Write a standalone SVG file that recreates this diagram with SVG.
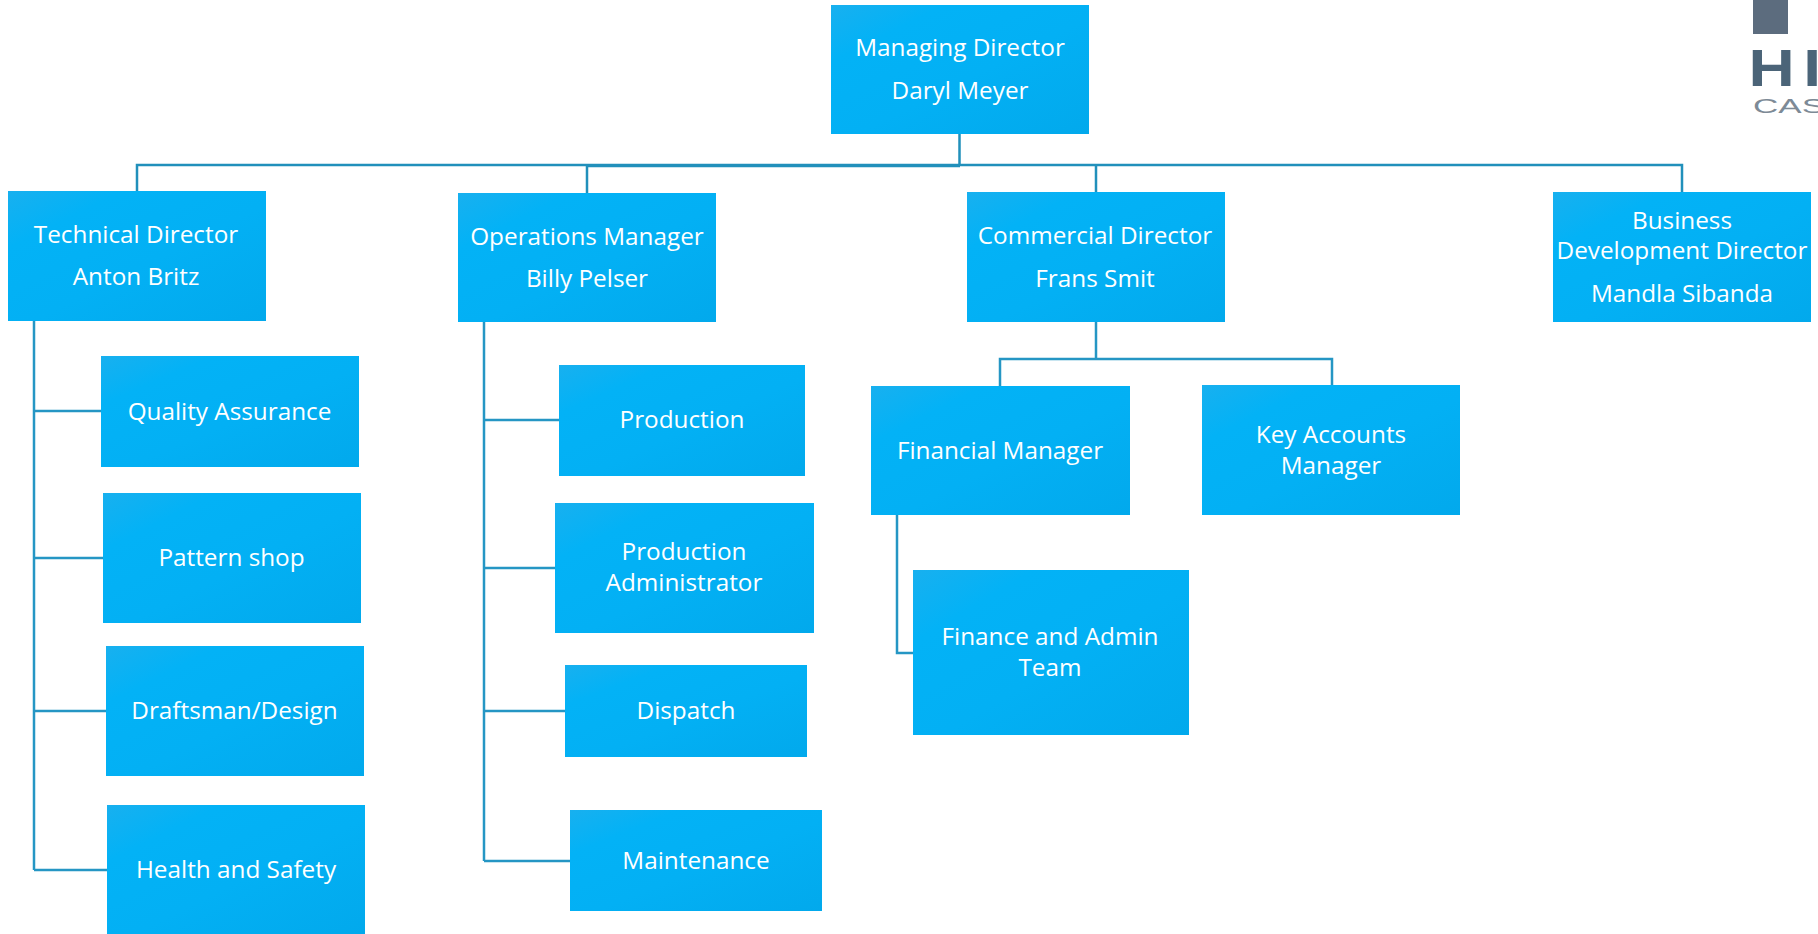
<svg xmlns="http://www.w3.org/2000/svg" width="1818" height="934" viewBox="0 0 1818 934">
<style>
.n{fill:url(#g)}
.t{font-family:"Open Sans","Noto Sans",sans-serif;font-size:24.3px;fill:#fff;text-anchor:middle}
.c{fill:none;stroke:#2596c4;stroke-width:2.5}
</style>
<defs><linearGradient id="g" x1="0" y1="0" x2="1" y2="1"><stop offset="0" stop-color="#18b0ef"/><stop offset=".22" stop-color="#03b2f6"/><stop offset=".55" stop-color="#03b0f4"/><stop offset="1" stop-color="#02a9ec"/></linearGradient></defs>
<rect width="1818" height="934" fill="#fff"/>
<g id="connectors" class="c">
<path d="M959.5 134V166M137 191V165H1682V192M587 193V166H960M1096 165V192" stroke="#2190bb"/>
<path d="M34 321V870M34 411H101M34 558H103M34 711H106M34 870H107"/>
<path d="M484 322V861M484 420H559M484 568H555M484 711H565M484 861H570"/>
<path d="M1096 322V359M1000 386V359H1332V385"/>
<path d="M897 515V653H913"/>
</g>
<g id="n-md"><rect class="n" x="831" y="5" width="258" height="129"/><text class="t" x="960" y="56">Managing Director</text><text class="t" x="960" y="99">Daryl Meyer</text></g>
<g id="n-td"><rect class="n" x="8" y="191" width="258" height="130"/><text class="t" x="136" y="243">Technical Director</text><text class="t" x="136" y="285">Anton Britz</text></g>
<g id="n-om"><rect class="n" x="458" y="193" width="258" height="129"/><text class="t" x="587" y="245">Operations Manager</text><text class="t" x="587" y="287">Billy Pelser</text></g>
<g id="n-cd"><rect class="n" x="967" y="192" width="258" height="130"/><text class="t" x="1095" y="244">Commercial Director</text><text class="t" x="1095" y="287">Frans Smit</text></g>
<g id="n-bd"><rect class="n" x="1553" y="192" width="258" height="130"/><text class="t" x="1682" y="229">Business</text><text class="t" x="1682" y="259">Development Director</text><text class="t" x="1682" y="302">Mandla Sibanda</text></g>
<g id="n-qa"><rect class="n" x="101" y="356" width="258" height="111"/><text class="t" x="229.500" y="420">Quality Assurance</text></g>
<g id="n-ps"><rect class="n" x="103" y="493" width="258" height="130"/><text class="t" x="231.500" y="566">Pattern shop</text></g>
<g id="n-dd"><rect class="n" x="106" y="646" width="258" height="130"/><text class="t" x="234.500" y="719">Draftsman/Design</text></g>
<g id="n-hs"><rect class="n" x="107" y="805" width="258" height="129"/><text class="t" x="236" y="878">Health and Safety</text></g>
<g id="n-pr"><rect class="n" x="559" y="365" width="246" height="111"/><text class="t" x="682" y="428">Production</text></g>
<g id="n-pa"><rect class="n" x="555" y="503" width="259" height="130"/><text class="t" x="684" y="560">Production</text><text class="t" x="684" y="591">Administrator</text></g>
<g id="n-di"><rect class="n" x="565" y="665" width="242" height="92"/><text class="t" x="686" y="719">Dispatch</text></g>
<g id="n-ma"><rect class="n" x="570" y="810" width="252" height="101"/><text class="t" x="696" y="869">Maintenance</text></g>
<g id="n-fm"><rect class="n" x="871" y="386" width="259" height="129"/><text class="t" x="1000" y="459">Financial Manager</text></g>
<g id="n-ka"><rect class="n" x="1202" y="385" width="258" height="130"/><text class="t" x="1331" y="443">Key Accounts</text><text class="t" x="1331" y="474">Manager</text></g>
<g id="n-ft"><rect class="n" x="913" y="570" width="276" height="165"/><text class="t" x="1050" y="645">Finance and Admin</text><text class="t" x="1050" y="676">Team</text></g>
<g id="logo"><rect x="1753" y="0" width="35" height="34" fill="#5c6c7e"/><text transform="translate(1748.400 86) scale(1.23 1)" font-family="Liberation Sans,sans-serif" font-weight="700" font-size="52" fill="#4b6478" letter-spacing="7">HI</text><text x="1753" y="113" font-family="Liberation Sans,sans-serif" font-size="21" fill="#7d8a96" textLength="72" lengthAdjust="spacingAndGlyphs">CAS</text></g>
</svg>
